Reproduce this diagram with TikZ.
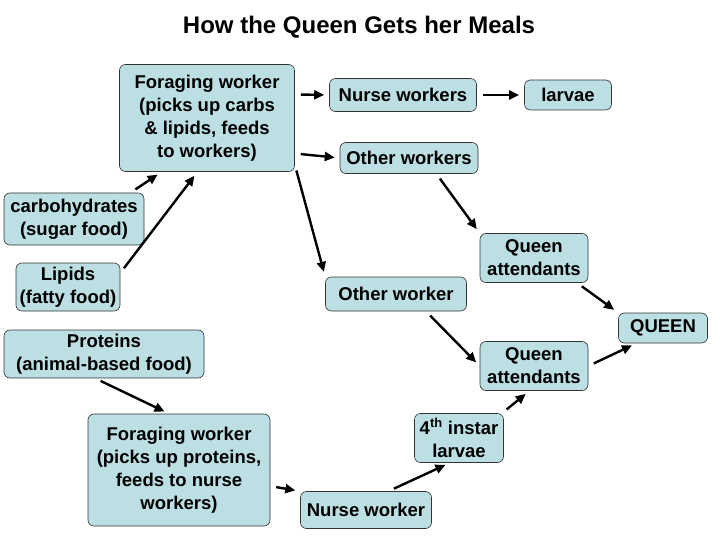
\documentclass[tikz,border=0pt]{standalone}
\usepackage{fontspec}
\setmainfont{Liberation Sans}
\usetikzlibrary{arrows.meta}
\definecolor{boxfill}{HTML}{BCDFE3}
\tikzset{
  bx/.style={draw=black!80, line width=0.6pt, fill=boxfill, rounded corners=6pt, align=center, inner sep=0pt, font=\fontsize{18.5}{23}\selectfont\bfseries},
  ar/.style={line width=2.4pt, -{Triangle[length=10pt,width=9pt]}, shorten <=6pt, shorten >=5pt}
}
\begin{document}
\begin{tikzpicture}[x=1pt,y=-1pt]
\useasboundingbox (0,0) rectangle (720,540);
\node[font=\fontsize{24}{28}\selectfont\bfseries] (title) at (359,27) {How the Queen Gets her Meals};
\node[bx, minimum width=175pt, minimum height=107pt] (f1) at (207,118) {Foraging worker\\(picks up carbs\\\& lipids, feeds\\to workers)};
\node[bx, minimum width=147pt, minimum height=33pt] (nw) at (403,95) {Nurse workers};
\node[bx, minimum width=87pt, minimum height=30pt] (lv) at (568,95) {larvae};
\node[bx, minimum width=138pt, minimum height=31pt] (ow) at (409,158) {Other workers};
\node[bx, minimum width=140pt, minimum height=52pt] (cb) at (74,219) {carbohydrates\\(sugar food)};
\node[bx, minimum width=104pt, minimum height=48pt] (lp) at (68,287) {Lipids\\(fatty food)};
\node[bx, minimum width=141pt, minimum height=34pt] (ow2) at (396,294) {Other worker};
\node[bx, minimum width=108pt, minimum height=49pt] (qa1) at (534,258) {Queen\\attendants};
\node[bx, minimum width=89pt, minimum height=30pt] (q) at (663,328) {QUEEN};
\node[bx, minimum width=200pt, minimum height=48pt] (pr) at (104,354) {Proteins\\(animal-based food)};
\node[bx, minimum width=108pt, minimum height=49pt] (qa2) at (534,366) {Queen\\attendants};
\node[bx, minimum width=182pt, minimum height=112pt] (f2) at (179,470) {Foraging worker\\(picks up proteins,\\feeds to nurse\\workers)};
\node[bx, minimum width=89pt, minimum height=49pt] (ins) at (459,438) {4\textsuperscript{th} instar\\larvae};
\node[bx, minimum width=131pt, minimum height=37pt] (nw2) at (366,510) {Nurse worker};
\draw[ar] (cb.25) -- (f1.-130);
\draw[ar] (lp.15) -- (f1.-100);
\draw[ar] (f1.15) -- (nw.west);
\draw[ar] (f1.-22) -- (ow.west);
\draw[ar] (f1.-28) -- (ow2.north west);
\draw[ar] (nw) -- (lv);
\draw[ar] (ow.-30) -- (qa1.north west);
\draw[ar] (qa1.-30) -- (q.north west);
\draw[ar] (ow2.-30) -- (qa2.west);
\draw[ar] (qa2.east) -- (q.-150);
\draw[ar] (pr.-110) -- (f2.100);
\draw[ar] (f2.-10) -- (nw2.north west);
\draw[ar] (nw2.40) -- (ins.-110);
\draw[ar] (ins.30) -- (qa2.-100);
\end{tikzpicture}
\end{document}
